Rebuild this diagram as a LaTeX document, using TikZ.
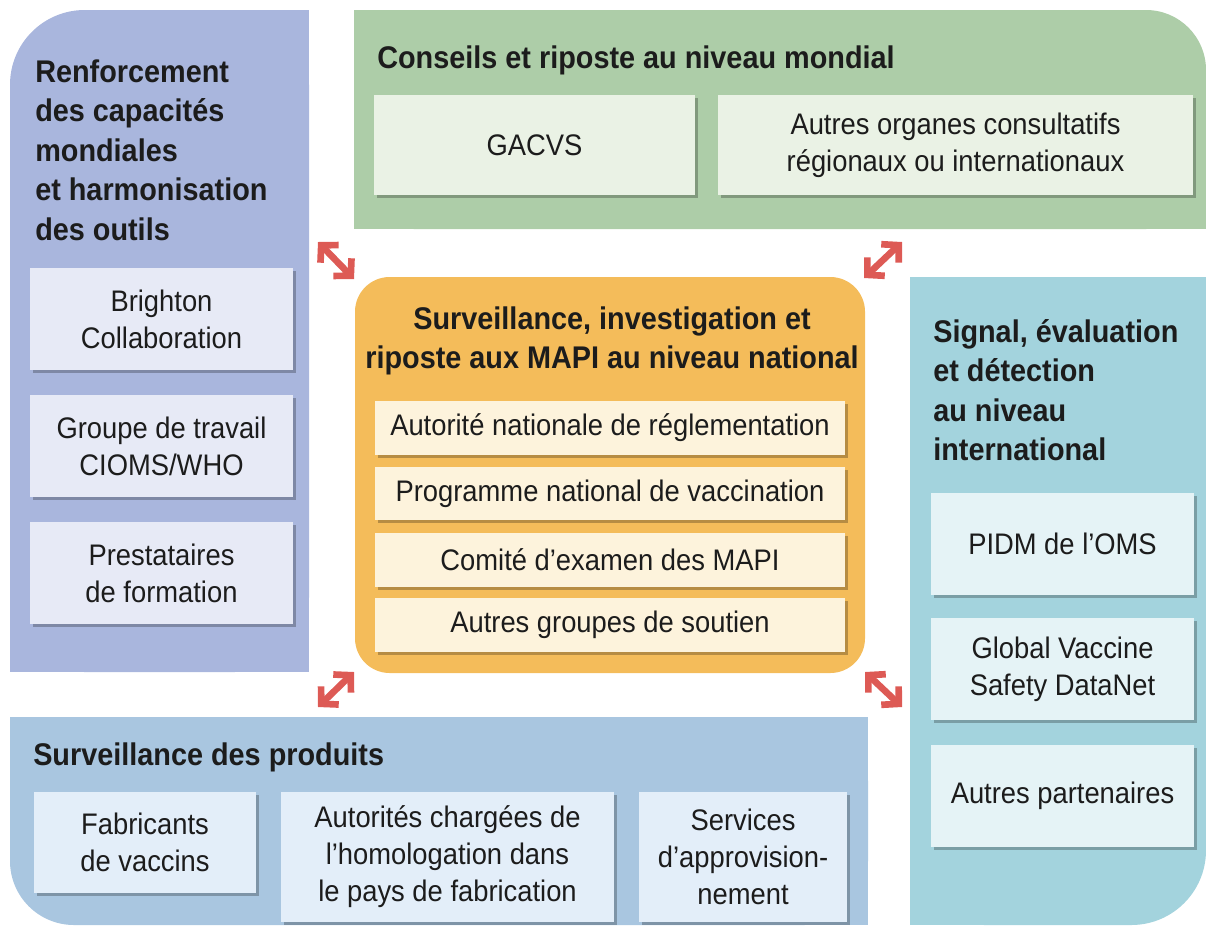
\documentclass[tikz,border=0pt]{standalone}
\usepackage{fontspec}
\setmainfont{Liberation Sans}[FakeStretch=0.92]
\usetikzlibrary{arrows.meta,shadows}
\definecolor{leftc}{HTML}{A9B6DD}
\definecolor{leftin}{HTML}{E7EAF6}
\definecolor{greenc}{HTML}{ADCDA8}
\definecolor{greenin}{HTML}{EAF2E5}
\definecolor{orangec}{HTML}{F4BC5A}
\definecolor{orangein}{HTML}{FDF3DC}
\definecolor{tealc}{HTML}{A3D3DD}
\definecolor{tealin}{HTML}{E5F3F6}
\definecolor{botc}{HTML}{A9C6E0}
\definecolor{botin}{HTML}{E3EEF9}
\definecolor{arrred}{HTML}{DD5A55}
\definecolor{txt}{HTML}{1C1C1C}
\newcommand\bfnt{\fontsize{22.3pt}{27.75pt}\selectfont}
\newcommand\tfnt{\fontsize{23.5pt}{29.6pt}\selectfont\bfseries}
\begin{document}
\begin{tikzpicture}[x=0.75pt,y=-0.75pt,
  ibox/.style={fill=#1, inner sep=0pt, align=center, font=\bfnt, text=txt,
    drop shadow={shadow xshift=2.4pt, shadow yshift=-2.4pt, fill=black, opacity=0.25}},
  sz/.style 2 args={minimum width=#1*0.75pt, minimum height=#2*0.75pt},
  title/.style={inner sep=0pt, align=left, font=\tfnt, anchor=west, text=txt},
  arr/.style={draw=arrred, line width=5pt, line join=miter,
    {Straight Barb[length=9pt,width=19pt]}-{Straight Barb[length=9pt,width=19pt]}}]
\useasboundingbox (0,0) rectangle (1206,933);
% panels
\fill[leftc, rounded corners=56pt] (10,10) rectangle (309,672);
\fill[leftc] (120,10) rectangle (309,672);
\fill[leftc] (10,120) rectangle (309,672);
\fill[greenc, rounded corners=45pt] (354,10) rectangle (1206,229);
\fill[greenc] (354,10) rectangle (1100,229);
\fill[greenc] (354,100) rectangle (1206,229);
\fill[tealc, rounded corners=56pt] (910,277) rectangle (1206,925);
\fill[tealc] (910,277) rectangle (1090,925);
\fill[tealc] (910,277) rectangle (1206,800);
\fill[botc, rounded corners=48pt] (10,717) rectangle (868,925);
\fill[botc] (110,717) rectangle (868,925);
\fill[botc] (10,717) rectangle (868,820);
\fill[orangec, rounded corners=26pt] (355,277) rectangle (865,673);
% titles
\node[title] (tl) at (35,150) {Renforcement\\des capacités\\mondiales\\et harmonisation\\des outils};
\node[title] (tg) at (377,60) {Conseils et riposte au niveau mondial};
\node[title, anchor=center, align=center] (to) at (612,341) {Surveillance, investigation et\\riposte aux MAPI au niveau national};
\node[title] (tt) at (933,390) {Signal, évaluation\\et détection\\au niveau\\international};
\node[title] (tb) at (33,757) {Surveillance des produits};
% left boxes
\node[ibox=leftin, sz={263}{102}] (l1) at (161.5,319) {Brighton\\Collaboration};
\node[ibox=leftin, sz={263}{102}] (l2) at (161.5,446) {Groupe de travail\\CIOMS/WHO};
\node[ibox=leftin, sz={263}{102}] (l3) at (161.5,573) {Prestataires\\de formation};
% green boxes
\node[ibox=greenin, sz={321}{100}] (g1) at (534.5,145) {GACVS};
\node[ibox=greenin, sz={475}{100}] (g2) at (955.5,145) {Autres organes consultatifs\\régionaux ou internationaux};
% orange boxes
\node[ibox=orangein, sz={470}{54}] (o1) at (610,428) {Autorité nationale de réglementation};
\node[ibox=orangein, sz={470}{53}] (o2) at (610,493.5) {Programme national de vaccination};
\node[ibox=orangein, sz={470}{54}] (o3) at (610,560) {Comité d’examen des MAPI};
\node[ibox=orangein, sz={470}{54}] (o4) at (610,625) {Autres groupes de soutien};
% teal boxes
\node[ibox=tealin, sz={263}{102}] (t1) at (1062.5,544) {PIDM de l’OMS};
\node[ibox=tealin, sz={263}{102}] (t2) at (1062.5,669) {Global Vaccine\\Safety DataNet};
\node[ibox=tealin, sz={263}{102}] (t3) at (1062.5,796) {Autres partenaires};
% bottom boxes
\node[ibox=botin, sz={222}{101}] (b1) at (145,842.5) {Fabricants\\de vaccins};
\node[ibox=botin, sz={333}{130}] (b2) at (447.5,857) {Autorités chargées de\\l’homologation dans\\le pays de fabrication};
\node[ibox=botin, sz={208}{130}] (b3) at (743,857) {Services\\d’approvision-\\nement};
% arrows
\coordinate (a1a) at (318,242); \coordinate (a1b) at (354,279);
\coordinate (a2a) at (864,278); \coordinate (a2b) at (902,242);
\coordinate (a3a) at (318,707); \coordinate (a3b) at (354,672);
\coordinate (a4a) at (865,672); \coordinate (a4b) at (902,707);
\draw[arr] (a1a) -- (a1b);
\draw[arr] (a2a) -- (a2b);
\draw[arr] (a3a) -- (a3b);
\draw[arr] (a4a) -- (a4b);
\end{tikzpicture}
\end{document}
